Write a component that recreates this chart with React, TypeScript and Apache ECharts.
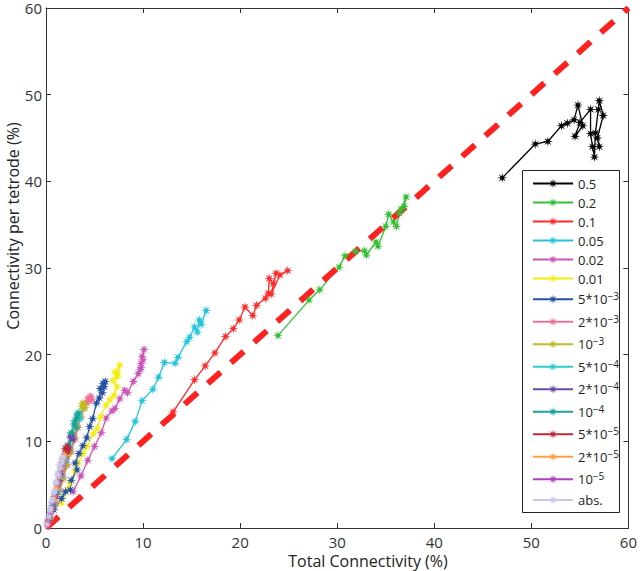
import React, { useEffect, useRef } from "react";
import * as echarts from "echarts";

// ---- data ----
const seriesNames = [
  "0.5", "0.2", "0.1", "0.05", "0.02", "0.01",
  "5*10^-3", "2*10^-3", "10^-3", "5*10^-4", "2*10^-4", "10^-4",
  "5*10^-5", "2*10^-5", "10^-5", "abs.",
];
const seriesColors = [
  "#000000", "#33c033", "#ff2a2a", "#22c4dc", "#cc55b8", "#f2ee10",
  "#2550a8", "#f0709a", "#c2bc1e", "#30cccc", "#6a4aa8", "#1aa398",
  "#c0283c", "#ffa040", "#b040c0", "#c8c8e6",
];

const s0_5 = [[47.0,40.4],[50.4,44.3],[51.7,44.6],[53.1,46.4],[53.7,46.7],[54.4,47.1],[54.8,48.8],[55.3,46.4],[54.5,45.2],[55.0,46.8],[56.1,48.3],[56.1,45.5],[56.3,44.0],[56.5,42.8],[56.6,45.6],[56.9,48.3],[57.0,49.3],[57.4,47.6],[56.8,45.0],[57.0,44.0]];
const s0_2 = [[23.9,22.2],[27.1,26.3],[28.2,27.5],[30.2,30.1],[30.8,31.4],[31.9,31.9],[32.8,32.0],[33.0,31.5],[34.0,33.0],[34.2,32.5],[35.0,34.8],[35.3,36.2],[35.8,35.3],[36.1,34.8],[36.4,36.3],[36.9,37.1],[37.1,38.2],[36.6,36.8]];
const s0_1 = [[13.1,13.4],[15.3,17.1],[16.4,18.7],[17.4,20.2],[18.5,22.1],[19.3,23.0],[19.9,24.0],[20.5,25.5],[21.3,24.5],[21.7,25.7],[22.6,26.5],[22.9,27.1],[23.0,28.8],[23.4,28.2],[23.7,29.4],[23.2,27.0],[24.1,29.2],[24.9,29.7]];
const s0_05 = [[6.8,8.0],[8.3,10.2],[9.2,12.3],[9.9,14.7],[11.0,16.0],[11.6,17.4],[12.2,19.1],[13.3,19.0],[13.6,19.7],[14.5,21.5],[14.8,22.0],[15.3,23.2],[15.6,22.6],[15.8,24.0],[16.0,23.5],[16.5,25.1]];
const s0_02 = [[2.8,4.2],[3.6,6.0],[4.3,7.8],[5.0,9.4],[5.7,11.0],[6.2,12.7],[6.8,13.5],[7.1,13.8],[7.6,14.9],[8.1,15.9],[8.4,15.6],[9.0,16.9],[9.5,17.8],[9.7,18.3],[9.8,19.0],[9.9,19.8],[10.1,20.6],[9.8,18.5],[10.0,19.4]];
const s0_01 = [[1.6,2.9],[2.2,4.4],[2.5,5.2],[3.0,6.6],[3.3,7.5],[3.8,8.6],[4.2,9.4],[4.9,10.9],[5.3,11.5],[5.6,12.8],[6.2,14.2],[6.6,14.8],[7.0,15.3],[7.3,16.3],[6.9,17.0],[7.4,17.8],[7.6,18.8],[7.1,18.0],[7.3,17.4]];
const s5e3 = [[0.8,2.1],[1.6,3.4],[2.0,4.2],[2.5,4.4],[2.6,5.5],[3.2,6.7],[3.0,7.5],[3.4,8.6],[3.8,9.5],[4.2,10.4],[4.5,11.7],[4.8,12.6],[5.2,14.4],[5.5,15.0],[5.6,16.1],[5.9,16.7],[6.1,16.9],[5.8,15.6],[6.0,16.3]];
const s2e3 = [[0.5,1.2],[1.0,2.8],[1.4,4.3],[1.8,5.8],[2.2,7.3],[2.6,8.8],[3.0,10.3],[3.3,11.6],[3.6,12.8],[3.9,13.8],[4.2,14.4],[4.5,15.0],[4.7,14.8],[4.4,14.7],[4.6,15.2],[4.3,14.9]];
const s1e3 = [[0.4,1.0],[0.9,2.6],[1.3,4.1],[1.7,5.6],[2.1,7.2],[2.5,8.8],[2.9,10.4],[3.2,11.7],[3.5,12.9],[3.8,13.8],[3.9,14.2],[3.7,14.0],[4.0,13.9],[3.8,14.4]];
const s5e4 = [[0.4,1.1],[0.8,2.6],[1.2,4.2],[1.6,5.9],[2.0,7.6],[2.4,9.2],[2.7,10.6],[3.0,11.8],[3.3,12.8],[3.4,13.3],[3.2,13.0],[3.5,12.6]];
const s2e4 = [[0.3,0.9],[0.7,2.4],[1.0,3.9],[1.4,5.5],[1.7,6.9],[2.0,8.2],[2.3,9.3],[2.6,10.4],[2.7,10.8],[2.5,10.6],[2.8,10.2]];
const s1e4 = [[0.3,1.0],[0.7,2.6],[1.1,4.3],[1.5,6.2],[1.9,8.0],[2.3,9.6],[2.6,11.0],[2.9,12.0],[3.2,12.8],[3.3,13.2],[3.0,12.4],[3.1,11.6]];
const s5e5 = [[0.3,0.8],[0.6,2.2],[0.9,3.6],[1.2,5.0],[1.5,6.3],[1.8,7.6],[2.0,8.6],[2.1,9.1],[2.2,9.4],[2.0,9.2],[2.3,8.9]];
const s2e5 = [[0.2,0.7],[0.5,2.0],[0.8,3.3],[1.1,4.6],[1.4,5.9],[1.6,7.0],[1.8,7.9],[1.9,8.4]];
const s1e5 = [[0.2,0.6],[0.4,1.7],[0.7,2.9],[0.9,4.0],[1.2,5.2],[1.4,6.2],[1.6,7.1],[1.7,7.6]];
const sAbs = [[0.1,0.4],[0.3,1.3],[0.5,2.3],[0.4,2.0],[0.7,3.3],[0.6,3.1],[0.9,4.3],[0.8,4.0],[1.1,5.2],[1.0,5.3],[1.3,6.1],[1.2,6.3],[1.5,6.9],[1.4,7.3],[1.7,7.6],[1.6,8.0],[1.8,8.2]];

const seriesData = [s0_5, s0_2, s0_1, s0_05, s0_02, s0_01, s5e3, s2e3, s1e3, s5e4, s2e4, s1e4, s5e5, s2e5, s1e5, sAbs];
const identityLine = [[0, 0], [60, 60]];

const axisMin = 0;
const axisMax = 60;
const axisInterval = 10;
const xTitle = "Total Connectivity (%)";
const yTitle = "Connectivity per tetrode (%)";

const FONT = "'Open Sans', 'Noto Sans', sans-serif";

function starSymbol(): string {
  const pts: string[] = [];
  for (let i = 0; i < 16; i++) {
    const a = (i * Math.PI) / 8 - Math.PI / 2;
    const r = i % 2 === 0 ? 10 : 3.6;
    pts.push(`${(10 + r * Math.cos(a)).toFixed(2)} ${(10 + r * Math.sin(a)).toFixed(2)}`);
  }
  return "path://M" + pts.join(" L") + " Z";
}

export default function App() {
  const ref = useRef<HTMLDivElement>(null);

  useEffect(() => {
    if (!ref.current) return;
    const chart = echarts.init(ref.current, undefined, { renderer: "svg" });
    const star = starSymbol();

    const axisCommon = {
      type: "value" as const,
      min: axisMin,
      max: axisMax,
      interval: axisInterval,
      splitLine: { show: false },
      axisLine: { show: true, onZero: false, lineStyle: { color: "#333", width: 1 } },
      axisTick: { show: true, inside: true, length: 5, lineStyle: { color: "#333" } },
    };

    const series: any[] = seriesData.map((d, i) => ({
      name: seriesNames[i],
      type: "line",
      data: d,
      xAxisIndex: 0,
      yAxisIndex: 0,
      symbol: star,
      symbolSize: 10,
      showSymbol: true,
      lineStyle: { color: seriesColors[i], width: 1.3 },
      itemStyle: { color: seriesColors[i] },
    }));
    series.push({
      name: "identity",
      type: "line",
      data: identityLine,
      symbol: "none",
      lineStyle: { color: "#ff2020", width: 6, type: [17, 14], cap: "butt" },
      z: 3,
    });

    const option: any = {
      animation: false,
      grid: { left: 46, right: 11, top: 8, bottom: 43 },
      xAxis: [
        { ...axisCommon, position: "bottom", axisLabel: { fontSize: 15, color: "#333", margin: 6, fontFamily: FONT } },
        { ...axisCommon, position: "top", axisLabel: { show: false } },
      ],
      yAxis: [
        { ...axisCommon, position: "left", axisLabel: { fontSize: 15, lineHeight: 14, color: "#333", margin: 4, fontFamily: FONT } },
        { ...axisCommon, position: "right", axisLabel: { show: false } },
      ],
      legend: {
        data: seriesNames,
        orient: "vertical",
        left: 522,
        top: 170,
        padding: [7, 4, 4, 10],
        itemWidth: 40,
        itemHeight: 12,
        itemGap: 6,
        selectedMode: false,
        z: 10,
        formatter: (name: string) => {
          if (name.indexOf("^") >= 0) {
            const [base, exp] = name.split("^");
            return `{b|${base}}{s|${exp.replace("-", "\u2212")}}`;
          }
          return name;
        },
        textStyle: {
          fontSize: 13,
          lineHeight: 12,
          color: "#222",
          fontFamily: FONT,
          rich: {
            b: { fontSize: 13, lineHeight: 16.5, color: "#222", fontFamily: FONT },
            s: { fontSize: 10, lineHeight: 9, verticalAlign: "top", color: "#222", fontFamily: FONT },
          },
        },
      },
      graphic: [
        {
          type: "rect",
          left: 522,
          top: 170,
          shape: { width: 97, height: 342 },
          style: { fill: "#fff", stroke: "#222", lineWidth: 1 },
          z: 9,
        },
        {
          type: "text",
          x: 368,
          y: 561,
          style: { text: xTitle, fontSize: 16, fill: "#222", fontFamily: FONT, textAlign: "center", textVerticalAlign: "middle" },
        },
        {
          type: "text",
          x: 13,
          y: 226,
          rotation: Math.PI / 2,
          style: { text: yTitle, fontSize: 16, fill: "#222", fontFamily: FONT, textAlign: "center", textVerticalAlign: "middle" },
        },
      ],
      series,
    };
    chart.setOption(option);
    return () => chart.dispose();
  }, []);

  return (
    <div
      ref={ref}
      style={{ position: "fixed", left: 0, top: 0, width: 640, height: 571, background: "#fff" }}
    />
  );
}
